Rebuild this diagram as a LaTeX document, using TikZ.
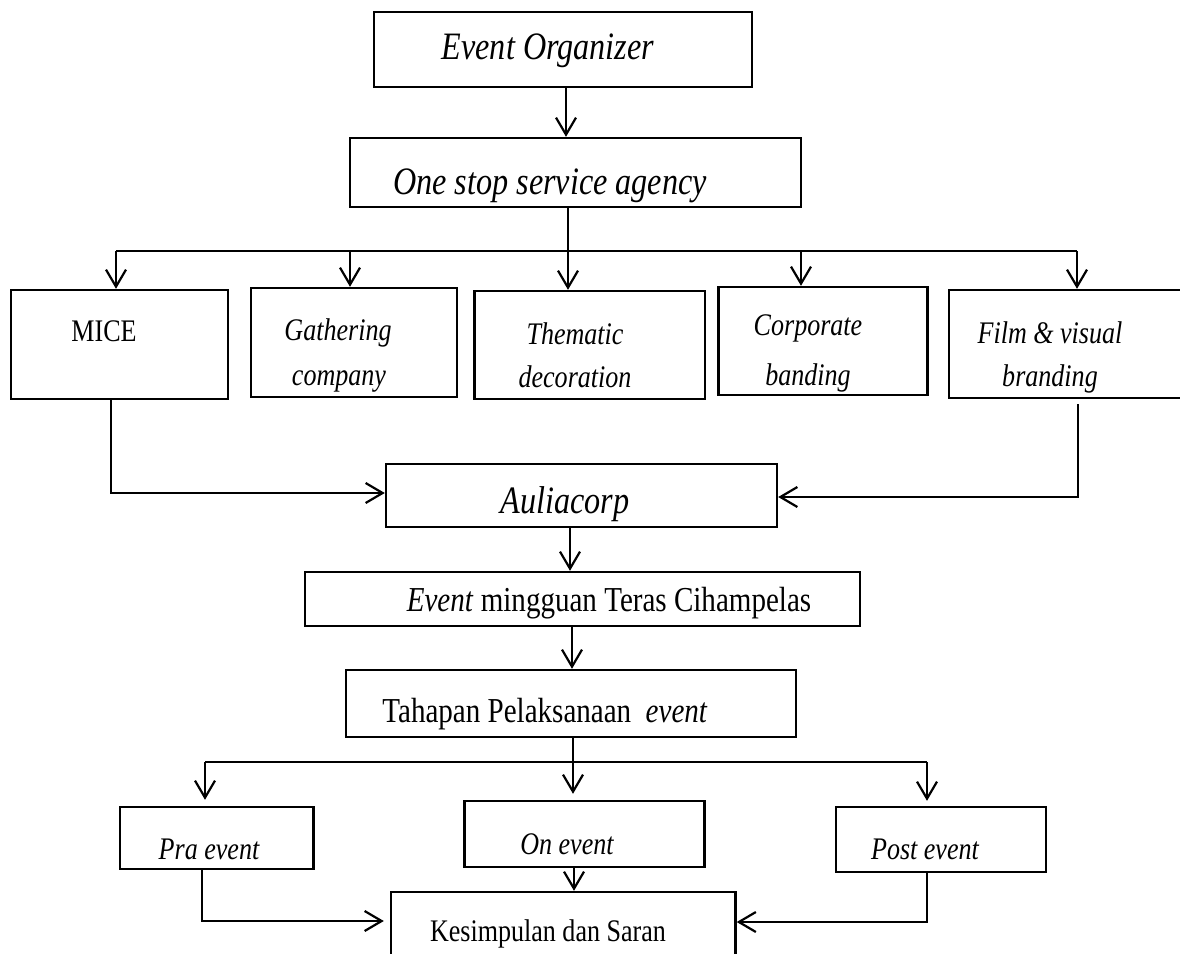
\documentclass[tikz,border=0pt]{standalone}
\usepackage{fontspec}
\setmainfont{Liberation Serif}[FakeStretch=0.83]
\usetikzlibrary{arrows.meta}
\begin{document}
\begin{tikzpicture}[x=1pt,y=-1pt]
\tikzset{
  box/.style={draw, line width=2.4pt, rectangle, inner sep=0pt},
  lnk/.style={line width=2pt},
  arr/.style={lnk, -{Straight Barb[length=17pt,width=20pt,line width=2.2pt]}},
  big/.style={font=\fontsize{38.8}{46}\selectfont\itshape, inner sep=0pt},
  mid/.style={font=\fontsize{35}{42}\selectfont, inner sep=0pt},
  sml/.style={font=\fontsize{31.4}{38}\selectfont, inner sep=0pt},
  smli/.style={font=\fontsize{31.4}{38}\selectfont\itshape, inner sep=0pt}
}
\clip (0,0) rectangle (1180,953);
\fill[white] (0,0) rectangle (1180,953);

% boxes
\node[box, minimum width=378pt, minimum height=75pt] (eo) at (563,49.5) {};
\node[box, minimum width=451pt, minimum height=69pt] (os) at (575.5,172.5) {};
\node[box, minimum width=217pt, minimum height=109pt] (mice) at (119.5,344.5) {};
\node[box, minimum width=206pt, minimum height=109pt] (gath) at (354,342.5) {};
\node[box, minimum width=230.5pt, minimum height=108pt] (them) at (589.75,345) {};
\node[box, minimum width=209pt, minimum height=108pt] (corp) at (823,341) {};
\node[box, minimum width=241pt, minimum height=108pt] (film) at (1069.5,344) {};
\node[box, minimum width=391pt, minimum height=63pt] (aul) at (581.5,495.5) {};
\node[box, minimum width=555pt, minimum height=54pt] (evt) at (582.5,599) {};
\node[box, minimum width=450pt, minimum height=67pt] (tah) at (571,703.5) {};
\node[box, minimum width=193.5pt, minimum height=62pt] (pra) at (216.75,838) {};
\node[box, minimum width=240pt, minimum height=66pt] (on) at (584.5,834) {};
\node[box, minimum width=210pt, minimum height=65pt] (post) at (941,839.5) {};
\node[box, minimum width=344.5pt, minimum height=78pt] (kes) at (563.25,931) {};

% texts
\node[big] (teo) at (548,51) {Event Organizer};
\node[big] (tos) at (550,186) {One stop service agency};
\node[sml] (tmice) at (104,331) {MICE};
\node[smli] (tgath1) at (338,333) {Gathering};
\node[smli] (tgath2) at (339,381) {company};
\node[smli] (tthem1) at (575,334) {Thematic};
\node[smli] (tthem2) at (575,377) {decoration};
\node[smli] (tcorp1) at (808,328) {Corporate};
\node[smli] (tcorp2) at (808,378) {banding};
\node[smli] (tfilm1) at (1050,333) {Film \& visual};
\node[smli] (tfilm2) at (1050,379) {branding};
\node[big] (taul) at (565,504) {Auliacorp};
\node[mid] (tevt) at (609,603) {\textit{Event} mingguan Teras Cihampelas};
\node[mid] (ttah) at (545,714) {Tahapan Pelaksanaan\ \ \textit{event}};
\node[smli] (tpra) at (209,849) {Pra event};
\node[smli] (ton) at (567,844) {On event};
\node[smli] (tpost) at (925,849) {Post event};
\node[sml] (tkes) at (548,934) {Kesimpulan dan Saran};

% coordinates
\coordinate (xa) at (566,0);
\coordinate (b0) at (568,251);
\coordinate (b1) at (116,251);
\coordinate (b2) at (350,251);
\coordinate (b3) at (568,251);
\coordinate (b4) at (801,251);
\coordinate (b5) at (1077,251);
\coordinate (m1) at (111,493);
\coordinate (f0) at (1077.5,404);
\coordinate (f1) at (1077.5,497);
\coordinate (xb) at (570,0);
\coordinate (xc) at (572,0);
\coordinate (c0) at (573,762);
\coordinate (c1) at (205,762);
\coordinate (c3) at (927,762);
\coordinate (p1) at (202,921);
\coordinate (xd) at (574,0);
\coordinate (q1) at (927,922);

% connectors
\draw[arr] (eo.south -| xa) -- (os.north -| xa);
\draw[lnk] (os.south -| b0) -- (b0);
\draw[lnk] (b1) -- (b5);
\draw[arr] (b1) -- (mice.north -| b1);
\draw[arr] (b2) -- (gath.north -| b2);
\draw[arr] (b3) -- (them.north -| b3);
\draw[arr] (b4) -- (corp.north -| b4);
\draw[arr] (b5) -- (film.north -| b5);
\draw[arr] (mice.south -| m1) -- (m1) -- (aul.west |- m1);
\draw[arr] (f0) -- (f1) -- (aul.east |- f1);
\draw[arr] (aul.south -| xb) -- (evt.north -| xb);
\draw[arr] (evt.south -| xc) -- (tah.north -| xc);
\draw[lnk] (tah.south -| c0) -- (c0);
\draw[lnk] (c1) -- (c3);
\draw[arr, shorten >=6pt] (c1) -- (pra.north -| c1);
\draw[arr, shorten >=6pt] (c0) -- (on.north -| c0);
\draw[arr, shorten >=5pt] (c3) -- (post.north -| c3);
\draw[arr, shorten >=6pt] (pra.south -| p1) -- (p1) -- (kes.west |- p1);
\draw[arr] (on.south -| xd) -- (kes.north -| xd);
\draw[arr] (post.south -| q1) -- (q1) -- (kes.east |- q1);
\end{tikzpicture}
\end{document}
